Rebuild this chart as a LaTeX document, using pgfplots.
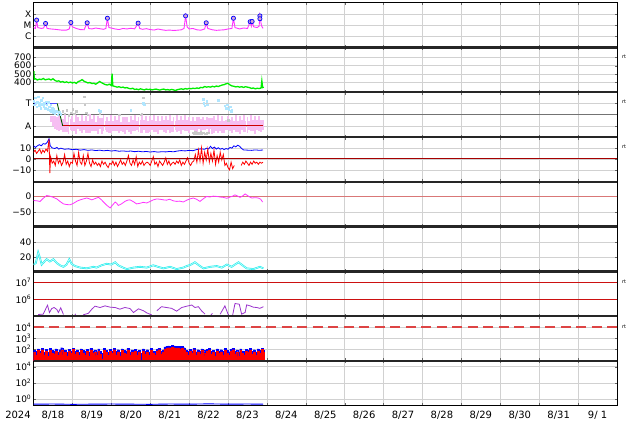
\documentclass[border=0pt]{standalone}
\usepackage{fontspec}
\setmainfont{DejaVu Sans}
\usepackage{pgfplots}
\pgfplotsset{compat=1.18}
\usepackage{pgfplotstable}

\definecolor{cMag}{HTML}{FF33FF}
\definecolor{cGreen}{HTML}{00EE00}
\definecolor{cLBlue}{HTML}{B0E6FF}
\definecolor{cPink}{HTML}{F6BEF2}
\definecolor{cGray}{HTML}{C8C8C8}
\definecolor{cCyan}{HTML}{22EEEE}
\definecolor{cPurple}{HTML}{9A33CC}
\definecolor{cRedLine}{HTML}{CC1111}
\definecolor{cDstLine}{HTML}{D97777}
\definecolor{cDash}{HTML}{DD4444}

% Panel 1: X-ray flux
\pgfplotstableread{
x y
0.00 6e-6
0.05 5e-6
0.08 2.8e-5
0.11 6e-6
0.20 5e-6
0.26 5.5e-6
0.31 1.4e-5
0.35 5e-6
0.45 4.5e-6
0.55 4.2e-6
0.65 3.8e-6
0.75 3.5e-6
0.85 3.6e-6
0.92 4.5e-6
0.96 1.7e-5
1.00 7e-6
1.10 5e-6
1.20 4e-6
1.30 3.8e-6
1.38 1.6e-5
1.42 5e-6
1.50 4.5e-6
1.60 5.5e-6
1.70 4.8e-6
1.80 4.2e-6
1.86 5e-6
1.90 4.1e-5
1.94 6e-6
2.00 5.5e-6
2.10 4.5e-6
2.20 4e-6
2.30 5e-6
2.40 4.5e-6
2.50 5.2e-6
2.60 4.6e-6
2.69 1.5e-5
2.73 5e-6
2.80 4.2e-6
2.90 4.8e-6
3.00 4e-6
3.10 3.6e-6
3.20 4.5e-6
3.30 3.8e-6
3.40 3.4e-6
3.50 3.6e-6
3.60 3.3e-6
3.70 3.5e-6
3.80 3.8e-6
3.87 5e-6
3.91 6.6e-5
3.95 7e-6
4.00 4.5e-6
4.10 5e-6
4.20 3.8e-6
4.30 3.5e-6
4.40 4.5e-6
4.44 1.6e-5
4.48 5e-6
4.60 3.8e-6
4.70 3.4e-6
4.80 3.6e-6
4.90 3.8e-6
5.00 4.5e-6
5.10 5e-6
5.14 4.1e-5
5.18 6e-6
5.30 4.5e-6
5.40 5.5e-6
5.50 5e-6
5.57 2e-5
5.60 8e-6
5.62 2.1e-5
5.66 7e-6
5.75 6e-6
5.80 8e-6
5.82 6.6e-5
5.86 9e-6
5.90 5e-6
}\xray

\pgfplotstableread{
x y
0.08 2.8e-5
0.31 1.4e-5
0.96 1.7e-5
1.38 1.6e-5
1.90 4.1e-5
2.69 1.5e-5
3.91 6.6e-5
4.44 1.6e-5
5.14 4.1e-5
5.57 2.0e-5
5.62 2.1e-5
5.82 6.6e-5
5.82 3.7e-5
}\flares

% Panel 2: speed
\pgfplotstableread{
x y
0.00 470
0.01 535
0.02 440
0.05 445
0.10 430
0.15 440
0.20 435
0.25 448
0.30 432
0.35 438
0.40 442
0.45 430
0.50 445
0.55 425
0.60 415
0.65 420
0.70 405
0.75 412
0.80 400
0.85 408
0.90 398
0.95 405
1.00 395
1.05 402
1.10 390
1.15 410
1.20 420
1.25 435
1.30 415
1.35 405
1.40 395
1.45 400
1.50 388
1.55 392
1.60 380
1.65 395
1.70 412
1.75 398
1.80 385
1.85 375
1.90 370
1.95 380
2.00 365
2.02 505
2.04 360
2.10 352
2.15 345
2.20 350
2.25 340
2.30 346
2.35 335
2.40 340
2.45 330
2.50 325
2.55 332
2.60 318
2.65 322
2.70 315
2.75 325
2.80 318
2.85 312
2.90 322
2.95 316
3.00 320
3.05 312
3.10 318
3.15 322
3.20 315
3.25 310
3.30 318
3.35 322
3.40 312
3.45 316
3.50 310
3.55 318
3.60 312
3.65 305
3.70 315
3.75 320
3.80 325
3.85 318
3.90 328
3.95 322
4.00 330
4.05 326
4.10 332
4.15 328
4.20 335
4.25 330
4.30 342
4.35 338
4.40 352
4.45 345
4.50 350
4.55 345
4.60 355
4.65 348
4.70 358
4.75 352
4.80 362
4.85 370
4.90 375
4.95 385
5.00 390
5.05 372
5.10 360
5.15 355
5.20 348
5.25 352
5.30 345
5.35 350
5.40 342
5.45 350
5.50 345
5.55 340
5.60 330
5.65 335
5.70 325
5.75 332
5.80 328
5.85 335
5.87 420
5.89 340
5.92 345
}\speed

% Panel 3: sector band
\pgfplotstableread{
x c e
0.45 1.6 0.3
0.50 1.4 0.45
0.55 1.3 0.55
0.60 1.2 0.6
0.65 1.25 0.7
0.70 1.1 0.5
0.75 1.05 0.6
0.80 1.2 0.75
0.85 0.9 0.45
0.90 1.1 0.8
0.95 1.15 0.5
1.00 1.2 0.7
1.05 0.95 0.4
1.10 1.1 0.85
1.15 1.25 0.55
1.20 1.0 0.45
1.25 1.2 0.8
1.30 1.05 0.4
1.35 1.15 0.75
1.40 0.9 0.5
1.45 1.2 0.85
1.50 1.05 0.55
1.55 1.25 0.7
1.60 0.95 0.4
1.65 1.1 0.8
1.70 1.2 0.5
1.75 1.0 0.7
1.80 1.25 0.75
1.85 1.05 0.4
1.90 1.1 0.65
1.95 0.9 0.55
2.00 1.15 0.8
2.05 1.0 0.45
2.10 1.2 0.7
2.15 1.05 0.5
2.20 1.2 0.85
2.25 0.95 0.4
2.30 1.1 0.65
2.35 1.05 0.75
2.40 1.2 0.55
2.45 0.9 0.45
2.50 1.1 0.8
2.55 1.0 0.5
2.60 1.25 0.7
2.65 1.05 0.4
2.70 1.1 0.65
2.75 0.95 0.55
2.80 1.2 0.8
2.85 1.05 0.45
2.90 1.1 0.75
2.95 0.9 0.5
3.00 1.15 0.7
3.05 1.05 0.45
3.10 1.2 0.75
3.15 0.95 0.5
3.20 1.1 0.8
3.25 1.05 0.4
3.30 1.25 0.65
3.35 1.0 0.55
3.40 1.1 0.75
3.45 1.05 0.45
3.50 1.2 0.8
3.55 0.95 0.5
3.60 1.1 0.65
3.65 1.05 0.4
3.70 1.2 0.75
3.75 1.0 0.5
3.80 1.1 0.8
3.85 1.05 0.45
3.90 1.25 0.7
3.95 1.0 0.5
4.00 1.1 0.7
4.05 1.05 0.4
4.10 1.2 0.6
4.15 1.0 0.45
4.20 1.1 0.65
4.25 1.25 0.5
4.30 1.05 0.55
4.35 1.2 0.6
4.40 1.1 0.45
4.45 1.25 0.55
4.50 1.05 0.65
4.55 1.2 0.5
4.60 1.0 0.7
4.65 1.1 0.75
4.70 1.05 0.5
4.75 1.2 0.8
4.80 0.95 0.45
4.85 1.1 0.75
4.90 0.9 0.55
4.95 1.1 0.45
5.00 1.25 0.6
5.05 1.0 0.5
5.10 1.1 0.7
5.15 1.05 0.4
5.20 1.2 0.75
5.25 0.95 0.5
5.30 1.1 0.8
5.35 1.05 0.45
5.40 1.2 0.75
5.45 0.95 0.5
5.50 1.1 0.7
5.55 1.05 0.4
5.60 1.25 0.75
5.65 1.0 0.5
5.70 1.1 0.8
5.75 1.05 0.45
5.80 1.2 0.7
5.85 1.0 0.55
5.90 1.1 0.45
}\band

% Panel 4: Bz
\pgfplotstableread{
x y
0.00 6
0.04 8
0.08 5
0.12 7
0.16 9
0.20 5
0.24 8
0.28 6
0.32 9
0.36 7
0.40 18
0.42 -13
0.44 2
0.48 -4
0.52 -2
0.56 -6
0.60 3
0.64 -4
0.68 -1
0.72 -6
0.76 -3
0.80 4
0.84 -5
0.88 -2
0.92 -7
0.96 -3
1.00 -4
1.04 5
1.08 -2
1.12 -6
1.16 6
1.20 -3
1.24 -5
1.28 3
1.32 -6
1.36 -2
1.40 5
1.44 -4
1.48 -7
1.52 -1
1.56 -5
1.60 -3
1.64 -6
1.68 -4
1.72 -7
1.76 -2
1.80 -5
1.84 -3
1.88 -6
1.92 -8
1.96 -4
2.00 -5
2.04 -2
2.08 -6
2.12 -3
2.16 -7
2.20 -4
2.24 -1
2.28 -5
2.32 -3
2.36 -6
2.40 -2
2.44 3
2.48 -4
2.52 -6
2.56 -1
2.60 -5
2.64 2
2.68 -7
2.72 -3
2.76 -5
2.80 -2
2.84 -6
2.88 -4
2.92 -3
2.96 -4
3.00 -6
3.04 -2
3.08 2
3.12 -5
3.16 -3
3.20 -7
3.24 -2
3.28 -4
3.32 -6
3.36 -3
3.40 1
3.44 -5
3.48 -2
3.52 -6
3.56 -4
3.60 -3
3.64 -5
3.68 -2
3.72 -4
3.76 -1
3.80 -6
3.84 -3
3.88 -5
3.92 -2
3.96 1
4.00 -4
4.04 -6
4.08 -3
4.12 -2
4.16 4
4.20 -3
4.24 8
4.28 -2
4.32 10
4.36 -4
4.40 6
4.44 -1
4.48 9
4.52 -3
4.56 5
4.60 -2
4.64 8
4.68 -5
4.72 3
4.76 -3
4.80 6
4.84 -1
4.88 4
4.92 -6
4.96 -4
5.00 -8
5.04 -10
5.08 -3
5.12 -9
5.16 -6
5.20 nan
5.34 -6
5.38 -3
5.42 -5
5.46 -2
5.50 -4
5.54 -6
5.58 -3
5.62 -5
5.66 -2
5.70 -4
5.74 -3
5.78 -5
5.82 -3
5.86 -4
5.90 -3
}\bz

\pgfplotstableread{
x y
0.00 12
0.05 10.5
0.10 12
0.15 13
0.20 12
0.25 14
0.30 13.5
0.35 15
0.40 18.5
0.43 12
0.48 10
0.55 9.5
0.60 10.5
0.65 9
0.70 9.8
0.80 8.8
0.90 9.2
1.00 8.4
1.10 8.8
1.20 8.0
1.30 8.5
1.40 7.8
1.50 8.2
1.60 7.6
1.70 8.0
1.80 7.4
1.90 7.8
2.00 7.2
2.10 7.6
2.20 7.0
2.30 7.3
2.40 6.9
2.50 7.2
2.60 6.6
2.70 7.0
2.80 6.5
2.90 6.8
3.00 6.3
3.10 6.7
3.20 6.2
3.30 6.6
3.40 6.4
3.50 6.8
3.60 6.5
3.70 7.2
3.80 7.6
3.90 7.3
4.00 7.8
4.10 7.5
4.20 8.6
4.30 9.2
4.40 8.8
4.45 9.8
4.50 9.0
4.55 11.5
4.60 9.5
4.65 10.8
4.70 9.0
4.75 10.2
4.80 8.8
4.85 9.6
4.90 8.5
4.95 9.5
5.00 8.8
5.05 10.5
5.10 9.8
5.15 12
5.20 11
5.25 12.5
5.30 11.5
5.35 9.5
5.40 8.2
5.50 8.0
5.60 7.8
5.70 8.2
5.80 7.9
5.90 8.1
}\bt

% Panel 5: Dst
\pgfplotstableread{
x y
0.00 -13
0.08 -14
0.17 -16
0.25 -6
0.34 3
0.42 1
0.51 -3
0.60 -8
0.68 -16
0.77 -24
0.85 -26
0.94 -27
1.03 -22
1.12 -15
1.20 -11
1.28 -8
1.37 -5
1.44 -8
1.50 -11
1.58 -7
1.67 -3
1.74 -10
1.80 -18
1.88 -28
1.97 -37
2.03 -28
2.10 -18
2.14 -22
2.18 -29
2.26 -24
2.35 -16
2.42 -12
2.48 -11
2.57 -17
2.65 -24
2.74 -22
2.82 -19
2.91 -21
3.00 -16
3.08 -11
3.17 -8
3.25 -9
3.34 -11
3.42 -12
3.50 -9
3.59 -14
3.68 -16
3.76 -15
3.85 -18
3.94 -12
4.02 -8
4.11 -5
4.19 -9
4.28 -16
4.36 -8
4.45 0
4.53 -2
4.62 1
4.71 0
4.80 -2
4.88 -3
4.97 -6
5.05 -2
5.12 1
5.18 5
5.25 1
5.31 -3
5.38 2
5.44 8
5.50 3
5.56 -2
5.61 -5
5.70 -4
5.78 -5
5.84 -9
5.89 -18
}\dst

% Panel 6: density
\pgfplotstableread{
x y
0.00 10
0.06 12
0.12 26
0.17 18
0.21 10
0.30 15
0.34 17
0.42 14
0.51 17
0.60 12
0.68 9
0.77 7
0.85 10
0.92 17
0.98 11
1.07 8
1.20 6
1.37 5
1.54 7
1.62 6
1.75 9
1.88 11
2.00 10
2.10 13
2.18 9
2.30 6
2.40 4
2.57 6
2.74 7
2.91 6
3.08 9
3.20 7
3.34 5
3.51 7
3.68 4
3.85 6
3.94 8
4.05 10
4.15 13
4.28 8
4.37 5
4.54 7
4.71 8
4.84 6
4.97 10
5.09 7
5.27 13
5.40 8
5.48 5
5.65 4
5.82 7
5.91 5
}\dens

% Panel 7
\pgfplotstableread{
x y
0.12 1.2e5
0.25 1.26e5
0.36 4.37e5
0.41 1.58e5
0.47 2.75e5
0.53 3.16e5
0.60 2.4e5
0.64 1.58e5
0.70 3.02e5
0.77 1.2e5
0.80 nan
1.06 1.0e5
1.08 1.32e5
1.10 nan
1.28 1.15e5
1.41 1.41e5
1.50 2.51e5
1.58 3.8e5
1.71 3.16e5
1.84 3.98e5
1.97 3.31e5
2.10 3.16e5
2.22 2.51e5
2.35 3.16e5
2.48 2.75e5
2.57 1.58e5
2.70 2.63e5
2.83 2.0e5
2.91 1.51e5
3.04 1.12e5
3.10 nan
3.17 2.0e5
3.29 3.55e5
3.42 3.16e5
3.55 2.82e5
3.68 1.91e5
3.81 3.16e5
3.94 3.8e5
4.07 4.47e5
4.15 3.16e5
4.24 3.55e5
4.32 2.0e5
4.41 1.26e5
4.45 nan
4.56 1.1e5
4.60 1.41e5
4.63 nan
4.80 1.26e5
4.92 3.98e5
5.01 1.12e5
5.05 nan
5.12 1.12e5
5.18 5.5e5
5.29 5.01e5
5.35 1.26e5
5.44 1.58e5
5.48 4.57e5
5.57 3.98e5
5.65 3.31e5
5.74 3.16e5
5.82 2.82e5
5.91 3.55e5
}\pflux

% Panel 8
\pgfplotstableread{
x r b
0.00 10 10
0.00 60 90
0.05 30 70
0.10 85 120
0.15 45 80
0.20 100 140
0.25 35 60
0.30 70 110
0.35 25 55
0.40 90 130
0.45 50 85
0.50 40 75
0.55 80 115
0.60 30 60
0.65 65 100
0.70 95 150
0.75 35 70
0.80 55 90
0.85 28 60
0.90 75 110
0.95 45 80
1.00 105 140
1.05 40 75
1.10 60 95
1.15 30 60
1.20 85 120
1.25 50 85
1.30 35 70
1.35 70 105
1.40 25 55
1.45 95 135
1.50 45 80
1.55 60 95
1.60 30 65
1.65 80 115
1.70 40 75
1.75 15 50
1.80 90 125
1.85 55 90
1.90 30 60
1.95 75 110
2.00 45 80
2.05 100 135
2.10 35 70
2.15 65 100
2.20 28 60
2.25 85 120
2.30 50 85
2.35 40 75
2.40 95 130
2.45 30 65
2.50 60 95
2.55 45 80
2.60 75 110
2.65 35 70
2.70 55 90
2.75 12 45
2.80 80 115
2.85 40 75
2.90 65 100
2.95 30 65
3.00 90 125
3.05 45 80
3.10 35 70
3.15 70 105
3.20 100 140
3.25 40 75
3.30 60 95
3.35 110 180
3.40 130 210
3.45 150 220
3.50 140 200
3.55 160 230
3.60 150 215
3.65 135 200
3.70 145 210
3.75 120 190
3.80 130 200
3.85 100 150
3.90 60 95
3.95 35 70
4.00 75 110
4.05 45 80
4.10 100 135
4.15 30 65
4.20 65 100
4.25 40 75
4.30 85 120
4.35 50 85
4.40 30 65
4.45 70 105
4.50 95 130
4.55 40 75
4.60 55 90
4.65 28 60
4.70 80 115
4.75 45 80
4.80 65 100
4.85 35 70
4.90 90 125
4.95 50 85
5.00 30 65
5.05 75 110
5.10 100 135
5.15 40 75
5.20 60 95
5.25 25 60
5.30 85 120
5.35 45 80
5.40 35 70
5.45 70 105
5.50 55 90
5.55 95 130
5.60 40 75
5.65 65 100
5.70 30 65
5.75 80 115
5.80 50 85
5.85 105 140
5.90 60 95
5.93 10 10
}\ions

\begin{document}
\begin{tikzpicture}[font=\fontsize{10}{12}\selectfont]
\path[use as bounding box] (0,0) rectangle (634pt,424pt);
\pgfplotsset{
  panel/.style={
    scale only axis, width=583.5pt, height=44.78pt,
    anchor=south west,
    xmin=0, xmax=15,
    xtick={1,2,...,14}, xticklabels={},
    xmajorgrids, ymajorgrids,
    grid style={black!18, line width=0.5pt},
    axis line style={black, line width=0.7pt},
    major tick length=2.5pt,
    tick style={black!60, line width=0.4pt},
    tick align=inside,
    yminorticks=false,
    yticklabel style={font=\fontsize{9}{10}\selectfont, inner sep=2pt},
    /pgf/number format/assume math mode=true,
    unbounded coords=jump,
  }
}

% Panel 1
\begin{axis}[panel, at={(33.5pt,376.52pt)}, ymode=log, ymin=1e-7, ymax=1e-3,
  ytick={1e-6,1e-5,1e-4}, yticklabels={C,M,X}]
\addplot[cMag, line width=0.9pt] table[x=x,y=y] {\xray};
\addplot[only marks, mark=*, mark size=2.1pt, mark options={draw=blue, fill=violet!35, line width=0.7pt}] table[x=x,y=y] {\flares};
\end{axis}

% Panel 2
\begin{axis}[panel, at={(33.5pt,331.74pt)}, ymin=284, ymax=817,
  ytick={400,500,600,700}, yticklabels={400,500,600,700}]
\addplot[cGreen, line width=1.3pt] table[x=x,y=y] {\speed};
\end{axis}

% Panel 3
\begin{axis}[panel, at={(33.5pt,286.96pt)}, ymin=0, ymax=4,
  ytick={1,3}, yticklabels={A,T}]
\addplot[black!55, line width=0.7pt] coordinates {(0,2) (15,2)};
\addplot[only marks, mark=square*, mark size=0.7pt, color=cGray] coordinates {
(0.75,2.3)(0.8,2.1)(0.85,2.4)(0.9,2.0)(0.95,2.2)(1.0,2.5)(1.05,2.1)(1.3,3.6)(1.32,2.9)(1.35,2.2)(1.4,2.0)(1.7,2.1)(2.2,2.0)(2.75,2.0)(2.78,2.1)(2.82,3.5)
(4.1,0.4)(4.13,0.3)(4.16,0.45)(4.2,0.35)(4.23,0.4)(4.26,0.3)(4.3,0.45)(4.33,0.35)(4.36,0.4)(4.4,0.3)(4.45,0.35)(4.5,0.4)(5.0,1.5)(0.9,1.9)(1.1,2.3)};
\addplot[draw=none, mark=none, error bars/.cd, y dir=both, y explicit,
  error bar style={draw=cPink, line width=1.9pt, solid}, error mark=none]
  table[x=x, y=c, y error=e] {\band};
\addplot[only marks, mark=square*, mark size=0.8pt, color=cLBlue] coordinates {
(0.00,3.2)(0.02,2.9)(0.04,3.5)(0.06,3.0)(0.08,2.7)(0.10,3.1)(0.12,3.6)(0.14,2.85)(0.16,3.05)(0.18,2.6)(0.20,3.3)(0.22,2.95)(0.24,3.5)(0.26,2.75)(0.28,3.0)(0.30,2.55)(0.32,3.15)(0.34,2.9)(0.36,2.5)(0.38,3.1)(0.40,2.7)(0.42,2.4)(0.44,2.9)(0.46,2.3)(0.48,2.6)(0.50,2.2)(0.52,2.5)(0.55,2.1)(0.58,2.3)(0.62,2.0)(0.66,2.2)(0.70,2.05)
(1.68,2.4)(1.72,2.3)(2.5,2.4)(2.82,3.0)(2.84,2.9)(4.36,3.4)(4.38,3.0)(4.40,2.8)(4.45,3.2)(4.47,2.9)(4.75,3.3)(4.92,2.8)(4.95,2.6)(4.98,2.9)(5.02,2.5)(5.05,2.7)(5.08,2.3)(5.10,2.4)};
\addplot[blue!70, line width=0.9pt] coordinates {(0,3) (0.61,3)};
\addplot[green!35!black, line width=0.9pt] coordinates {(0.61,3) (0.75,1)};
\addplot[red!80!black, line width=0.9pt] coordinates {(0.75,1) (5.9,1)};
\end{axis}

% Panel 4
\begin{axis}[panel, at={(33.5pt,242.18pt)}, ymin=-21, ymax=20,
  ytick={-10,0,10}, yticklabels={−10,0,10}]
\addplot[blue, line width=0.8pt] table[x=x,y=y] {\bt};
\addplot[red, line width=0.8pt] table[x=x,y=y] {\bz};
\addplot[red!65!black, line width=1pt] coordinates {(0,0) (15,0)};
\end{axis}

% Panel 5
\begin{axis}[panel, at={(33.5pt,197.4pt)}, ymin=-97, ymax=47,
  ytick={-50,0}, yticklabels={−50,0}]
\addplot[cDstLine, line width=1.8pt] coordinates {(0,0) (15,0)};
\addplot[cMag, line width=0.8pt] table[x=x,y=y] {\dst};
\end{axis}

% Panel 6
\begin{axis}[panel, at={(33.5pt,152.62pt)}, ymin=1, ymax=60,
  ytick={20,40}, yticklabels={20,40}]
\addplot[cCyan, line width=1.8pt] table[x=x,y=y] {\dens};
\addplot[cCyan!20, line width=0.5pt] table[x=x,y=y] {\dens};
\end{axis}

% Panel 7
\begin{axis}[panel, at={(33.5pt,107.84pt)}, ymode=log, ymin=9.5e4, ymax=4.8e7,
  ytick={1e6,1e7}, yticklabels={10\textsuperscript{6},10\textsuperscript{7}}]
\addplot[cRedLine, line width=1pt] coordinates {(0,1e6) (15,1e6)};
\addplot[cRedLine, line width=1pt] coordinates {(0,1e7) (15,1e7)};
\addplot[cPurple, line width=0.8pt] table[x=x,y=y] {\pflux};
\end{axis}

% Panel 8
\begin{axis}[panel, at={(33.5pt,63.06pt)}, ymode=log, ymin=10, ymax=9.3e4,
  ytick={1e2,1e3,1e4}, yticklabels={10\textsuperscript{2},10\textsuperscript{3},10\textsuperscript{4}}]
\addplot[const plot, fill=blue, draw=blue, line width=0.3pt] table[x=x,y=b] {\ions} -- cycle;
\addplot[const plot, fill=red, draw=red, line width=0.3pt] table[x=x,y=r] {\ions} -- cycle;
\addplot[cDash, line width=1.2pt, dash pattern=on 10pt off 5.5pt] coordinates {(0,1e4) (15,1e4)};
\end{axis}

% Panel 9
\begin{axis}[panel, at={(33.5pt,18.28pt)}, ymode=log, ymin=0.141, ymax=52500,
  ytick={1,1e2,1e4}, yticklabels={10\textsuperscript{0},10\textsuperscript{2},10\textsuperscript{4}},
  extra x ticks={0.5,1.5,...,14.5},
  extra x tick labels={8/18,8/19,8/20,8/21,8/22,8/23,8/24,8/25,8/26,8/27,8/28,8/29,8/30,8/31,9/ 1},
  extra x tick style={grid=none, major tick length=0pt, tick label style={yshift=-2pt}}]
\addplot[blue, line width=0.9pt] coordinates {(0,0.22)(0.5,0.23)(1.0,0.21)(1.5,0.22)(2.0,0.23)(2.5,0.22)(3.0,0.21)(3.5,0.23)(4.0,0.22)(4.5,0.24)(5.0,0.22)(5.5,0.23)(5.9,0.22)};
\end{axis}

\node[anchor=north, yshift=-2pt, inner sep=0.333em] at (18pt,18.28pt) {2024};

\foreach \yy in {376.52,331.74,286.96,242.18,197.4,152.62,107.84,63.06}
  \draw[line width=2.4pt, black!85] (33.5pt,\yy pt) -- (617pt,\yy pt);

\foreach \yy in {367.3,322.3,277.3,142.3,97.3}
  \node[font=\fontsize{5}{6}\selectfont, inner sep=0pt] at (624pt,\yy pt) {rt};
\end{tikzpicture}
\end{document}
